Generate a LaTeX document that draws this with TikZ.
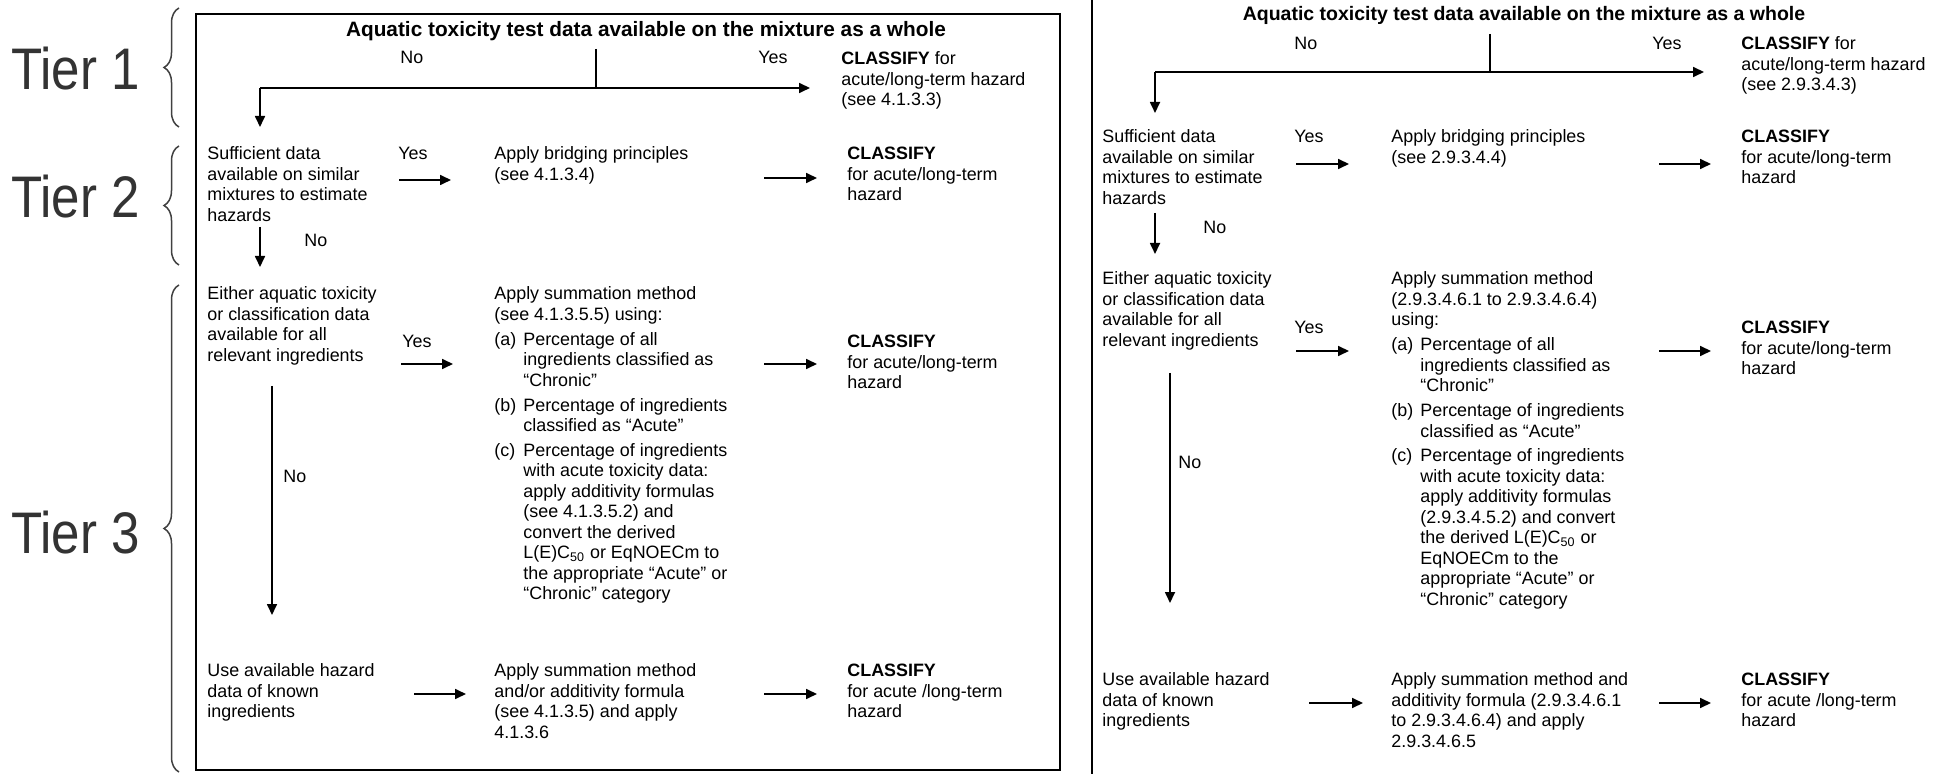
\documentclass[tikz,border=0pt]{standalone}
\usepackage{fontspec}
\setmainfont{Liberation Sans}
\usetikzlibrary{arrows.meta,decorations.pathreplacing}
\definecolor{tiergray}{HTML}{333333}
\definecolor{bracegray}{HTML}{404040}
\newcommand\lbl[1]{\makebox[14.5pt][l]{#1}}
\newcommand\ind{\hspace*{14.5pt}}
\tikzset{
  txt/.style={anchor=north west, inner sep=0pt, align=left, font=\fontsize{8.95}{10.25}\selectfont},
  ttl/.style={anchor=base, inner sep=0pt, font=\fontsize{9.75}{11}\selectfont\bfseries},
  arr/.style={-{Triangle[length=5.5pt,width=5pt]}, line width=0.85pt},
  ln/.style={line width=0.85pt},
  frame/.style={line width=0.9pt},
  tier/.style={anchor=base west, inner sep=0pt, text=tiergray, font=\fontsize{25.5}{28}\selectfont},
  br/.style={decorate, decoration={brace, amplitude=7.5pt}, draw=bracegray, line width=0.75pt},
}
\begin{document}
\begin{tikzpicture}[x=0.5pt,y=-0.5pt]
\useasboundingbox (0,0) rectangle (1958,774);
\fill[white] (0,0) rectangle (1958,774);

% ---------- tier labels and braces ----------
\node[tier] (t1) at (11,90) {\scalebox{1}[1.15]{Tier 1}};
\node[tier] (t2) at (11,218) {\scalebox{1}[1.15]{Tier 2}};
\node[tier] (t3) at (11,553) {\scalebox{1}[1.15]{Tier 3}};
\coordinate (b1t) at (179,8);   \coordinate (b1b) at (179,127);
\coordinate (b2t) at (179,146); \coordinate (b2b) at (179,265);
\coordinate (b3t) at (179,285); \coordinate (b3b) at (179,772);
\draw[br] (b1b) -- (b1t);
\draw[br] (b2b) -- (b2t);
\draw[br] (b3b) -- (b3t);

% ---------- left panel ----------
\draw[frame] (196,14) rectangle (1060,770);
\node[ttl, font=\fontsize{10.4}{12}\selectfont\bfseries] (Ltitle) at (646,37) {Aquatic toxicity test data available on the mixture as a whole};
\node[txt] (Lno1) at (400,49) {\strut No};
\node[txt] (Lyes1) at (758,49) {\strut Yes};
\node[txt] (Lcl1) at (841,50) {\strut\textbf{CLASSIFY} for\\acute/long-term hazard\\(see 4.1.3.3)};

\coordinate (Lv1) at (596,49);
\coordinate (Lj1) at (596,88);
\coordinate (Lh1) at (260,88);
\coordinate (Lh2) at (810,88);
\coordinate (Ld1) at (260,127);
\draw[ln] (Lv1) -- (Lj1);
\draw[arr] (Lh1) -- (Lh2);
\draw[arr] (Lh1) -- (Ld1);

\node[txt] (Lsuff) at (207,145) {\strut Sufficient data\\available on similar\\mixtures to estimate\\hazards};
\node[txt] (Lyes2) at (398,145) {\strut Yes};
\node[txt] (Lbr) at (494,145) {\strut Apply bridging principles\\(see 4.1.3.4)};
\node[txt] (Lcl2) at (847,145) {\strut\textbf{CLASSIFY}\\for acute/long-term\\hazard};
\coordinate (La2s) at (399,180); \coordinate (La2e) at (451,180);
\coordinate (La3s) at (764,178); \coordinate (La3e) at (817,178);
\draw[arr] (La2s) -- (La2e);
\draw[arr] (La3s) -- (La3e);
\node[txt] (Lno2) at (304,232) {\strut No};
\coordinate (Ld2s) at (260,227); \coordinate (Ld2e) at (260,267);
\draw[arr] (Ld2s) -- (Ld2e);

\node[txt] (Leither) at (207,285) {\strut Either aquatic toxicity\\or classification data\\available for all\\relevant ingredients};
\node[txt] (Lyes3) at (402,333) {\strut Yes};
\node[txt] (Lsum) at (494,285) {\strut Apply summation method\\(see 4.1.3.5.5) using:\\[2.2pt]
\lbl{(a)}Percentage of all\\\ind ingredients classified as\\\ind “Chronic”\\[2.2pt]
\lbl{(b)}Percentage of ingredients\\\ind classified as “Acute”\\[2.2pt]
\lbl{(c)}Percentage of ingredients\\\ind with acute toxicity data:\\\ind apply additivity formulas\\\ind (see 4.1.3.5.2) and\\\ind convert the derived\\\ind L(E)C\textsubscript{50} or EqNOECm to\\\ind the appropriate “Acute” or\\\ind “Chronic” category};
\node[txt] (Lcl3) at (847,333) {\strut\textbf{CLASSIFY}\\for acute/long-term\\hazard};
\coordinate (La4s) at (401,364); \coordinate (La4e) at (453,364);
\coordinate (La5s) at (764,364); \coordinate (La5e) at (817,364);
\draw[arr] (La4s) -- (La4e);
\draw[arr] (La5s) -- (La5e);
\node[txt] (Lno3) at (283,468) {\strut No};
\coordinate (Ld3s) at (272,386); \coordinate (Ld3e) at (272,615);
\draw[arr] (Ld3s) -- (Ld3e);

\node[txt] (Luse) at (207,662) {\strut Use available hazard\\data of known\\ingredients};
\node[txt] (Lsum2) at (494,662) {\strut Apply summation method\\and/or additivity formula\\(see 4.1.3.5) and apply\\4.1.3.6};
\node[txt] (Lcl4) at (847,662) {\strut\textbf{CLASSIFY}\\for acute /long-term\\hazard};
\coordinate (La6s) at (414,694); \coordinate (La6e) at (466,694);
\coordinate (La7s) at (764,694); \coordinate (La7e) at (817,694);
\draw[arr] (La6s) -- (La6e);
\draw[arr] (La7s) -- (La7e);

% ---------- right panel ----------
\coordinate (Rft) at (1092,0); \coordinate (Rfb) at (1092,774);
\draw[frame] (Rft) -- (Rfb);
\node[ttl] (Rtitle) at (1524,21) {Aquatic toxicity test data available on the mixture as a whole};
\node[txt] (Rno1) at (1294,35) {\strut No};
\node[txt] (Ryes1) at (1652,35) {\strut Yes};
\node[txt] (Rcl1) at (1741,35) {\strut\textbf{CLASSIFY} for\\acute/long-term hazard\\(see 2.9.3.4.3)};
\coordinate (Rv1) at (1490,34);
\coordinate (Rj1) at (1490,72);
\coordinate (Rh1) at (1155,72);
\coordinate (Rh2) at (1704,72);
\coordinate (Rd1) at (1155,113);
\draw[ln] (Rv1) -- (Rj1);
\draw[arr] (Rh1) -- (Rh2);
\draw[arr] (Rh1) -- (Rd1);

\node[txt] (Rsuff) at (1102,128) {\strut Sufficient data\\available on similar\\mixtures to estimate\\hazards};
\node[txt] (Ryes2) at (1294,128) {\strut Yes};
\node[txt] (Rbr) at (1391,128) {\strut Apply bridging principles\\(see 2.9.3.4.4)};
\node[txt] (Rcl2) at (1741,128) {\strut\textbf{CLASSIFY}\\for acute/long-term\\hazard};
\coordinate (Ra2s) at (1296,164); \coordinate (Ra2e) at (1349,164);
\coordinate (Ra3s) at (1659,164); \coordinate (Ra3e) at (1711,164);
\draw[arr] (Ra2s) -- (Ra2e);
\draw[arr] (Ra3s) -- (Ra3e);
\node[txt] (Rno2) at (1203,219) {\strut No};
\coordinate (Rd2s) at (1155,213); \coordinate (Rd2e) at (1155,254);
\draw[arr] (Rd2s) -- (Rd2e);

\node[txt] (Reither) at (1102,270) {\strut Either aquatic toxicity\\or classification data\\available for all\\relevant ingredients};
\node[txt] (Ryes3) at (1294,319) {\strut Yes};
\node[txt] (Rsum) at (1391,270) {\strut Apply summation method\\(2.9.3.4.6.1 to 2.9.3.4.6.4)\\using:\\[2.2pt]
\lbl{(a)}Percentage of all\\\ind ingredients classified as\\\ind “Chronic”\\[2.2pt]
\lbl{(b)}Percentage of ingredients\\\ind classified as “Acute”\\[2.2pt]
\lbl{(c)}Percentage of ingredients\\\ind with acute toxicity data:\\\ind apply additivity formulas\\\ind (2.9.3.4.5.2) and convert\\\ind the derived L(E)C\textsubscript{50} or\\\ind EqNOECm to the\\\ind appropriate “Acute” or\\\ind “Chronic” category};
\node[txt] (Rcl3) at (1741,319) {\strut\textbf{CLASSIFY}\\for acute/long-term\\hazard};
\coordinate (Ra4s) at (1296,351); \coordinate (Ra4e) at (1349,351);
\coordinate (Ra5s) at (1659,351); \coordinate (Ra5e) at (1711,351);
\draw[arr] (Ra4s) -- (Ra4e);
\draw[arr] (Ra5s) -- (Ra5e);
\node[txt] (Rno3) at (1178,454) {\strut No};
\coordinate (Rd3s) at (1170,373); \coordinate (Rd3e) at (1170,603);
\draw[arr] (Rd3s) -- (Rd3e);

\node[txt] (Ruse) at (1102,671) {\strut Use available hazard\\data of known\\ingredients};
\node[txt] (Rsum2) at (1391,671) {\strut Apply summation method and\\additivity formula (2.9.3.4.6.1\\to 2.9.3.4.6.4) and apply\\2.9.3.4.6.5};
\node[txt] (Rcl4) at (1741,671) {\strut\textbf{CLASSIFY}\\for acute /long-term\\hazard};
\coordinate (Ra6s) at (1309,703); \coordinate (Ra6e) at (1363,703);
\coordinate (Ra7s) at (1659,703); \coordinate (Ra7e) at (1711,703);
\draw[arr] (Ra6s) -- (Ra6e);
\draw[arr] (Ra7s) -- (Ra7e);
\end{tikzpicture}
\end{document}
